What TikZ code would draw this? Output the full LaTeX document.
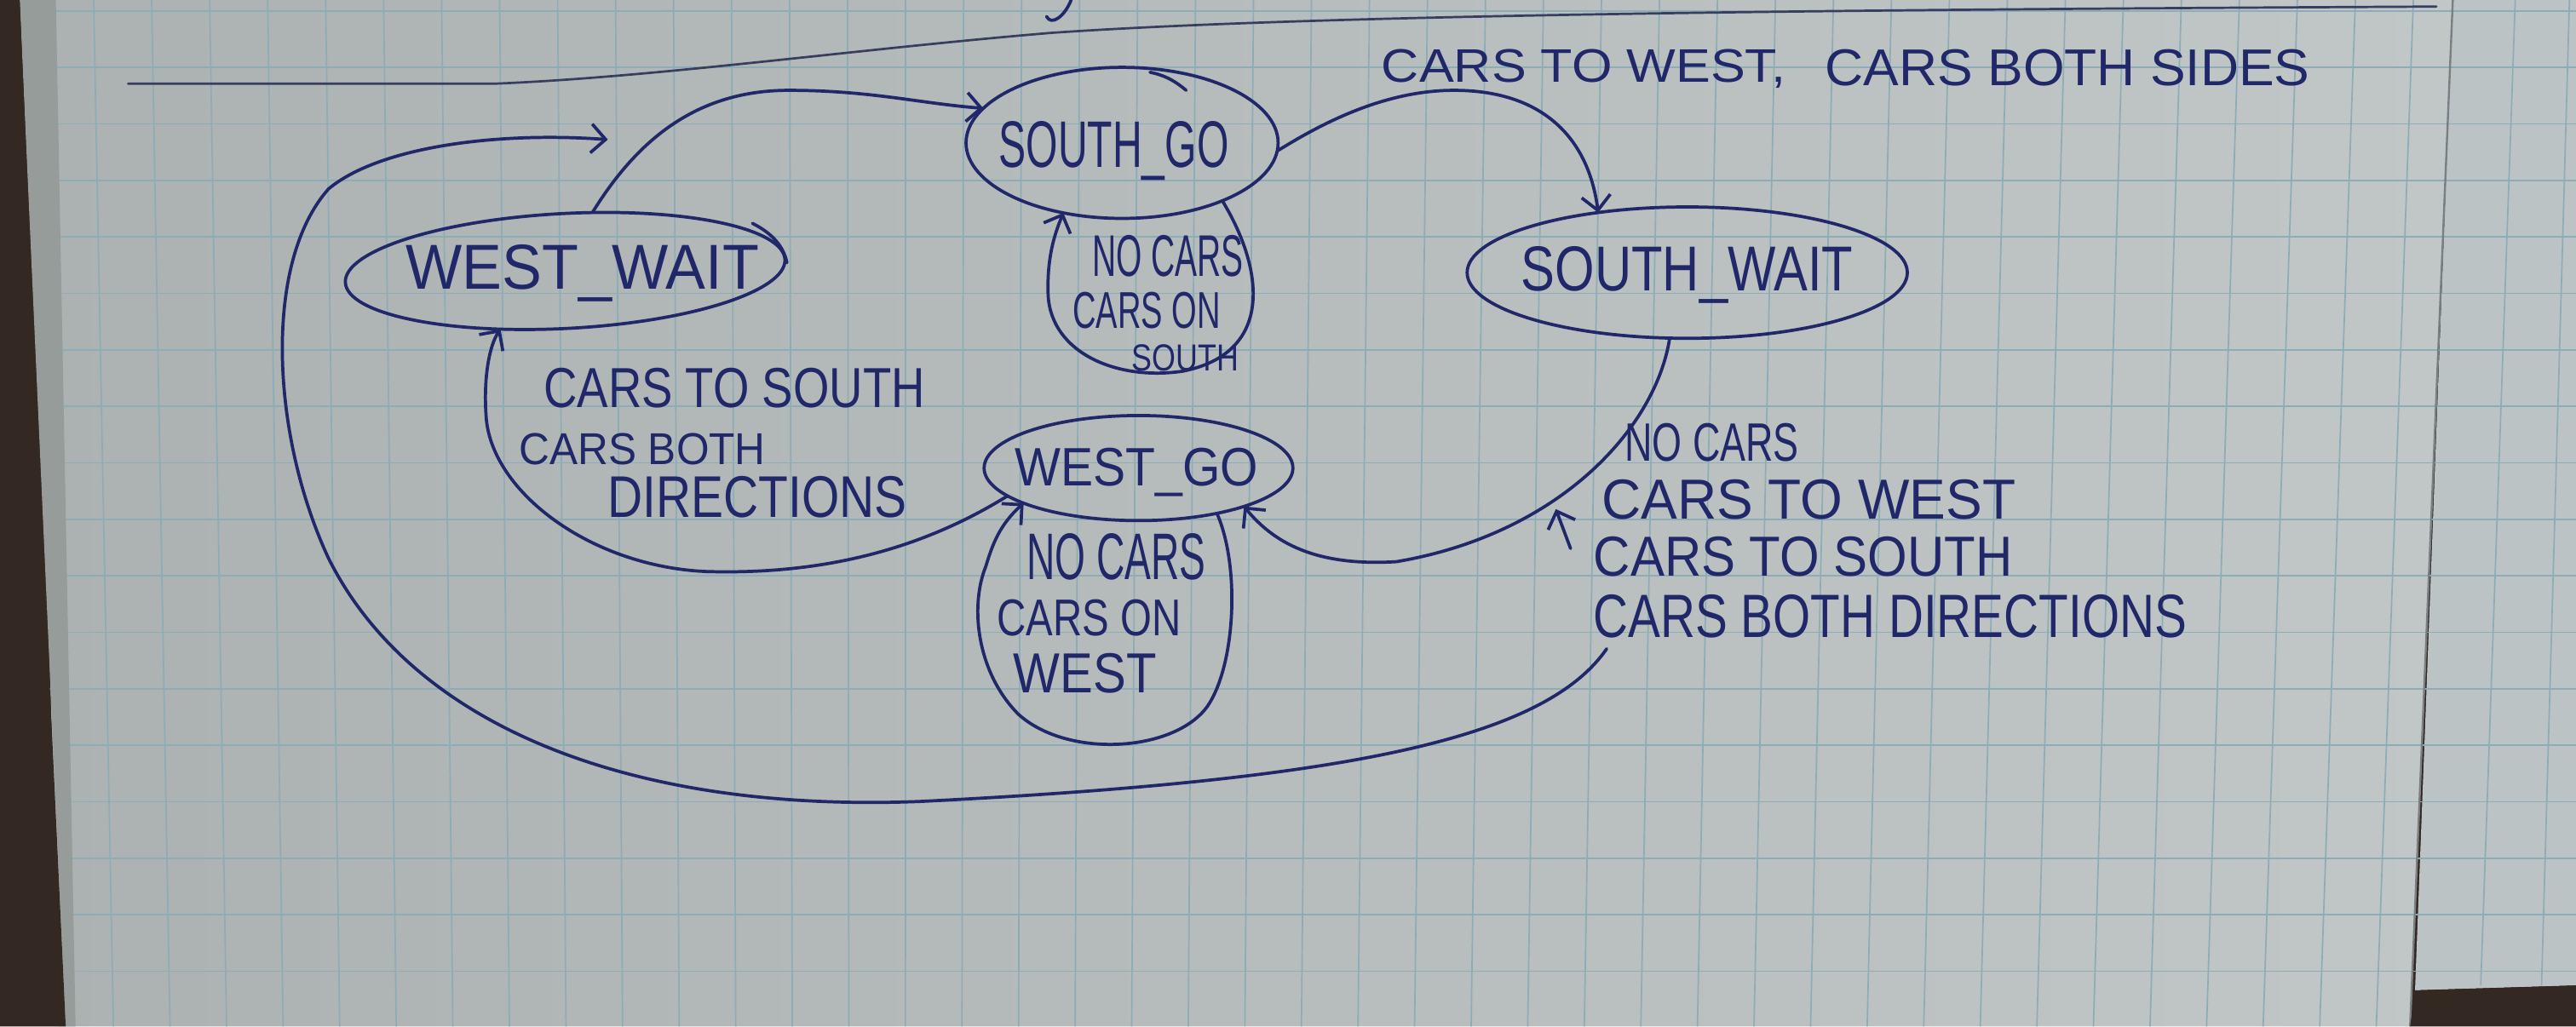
\documentclass[tikz,border=0pt]{standalone}
\usepackage{fontspec}
\setmainfont{Liberation Sans}
\usepackage{graphicx}
\usetikzlibrary{shapes.geometric,arrows.meta}
\definecolor{ink}{RGB}{32,40,105}
\definecolor{faintink}{RGB}{55,62,95}
\definecolor{paperL}{RGB}{172,178,177}
\definecolor{paperR}{RGB}{193,199,198}
\definecolor{paperRt}{RGB}{188,195,196}
\definecolor{gridc}{RGB}{140,172,182}
\definecolor{desk}{RGB}{52,40,34}
\definecolor{pageedge}{RGB}{150,156,154}
\definecolor{foldc}{RGB}{120,128,132}
\newdimen\hwu \hwu=0.02cm
\newcommand\hw[3]{\resizebox{#1\hwu}{#2\hwu}{#3}}
\begin{document}
\begin{tikzpicture}[x=0.02cm,y=-0.02cm,
  ink line/.style={draw=ink, line width=1.1pt, line cap=round, line join=round},
  state/.style={ink line, ellipse, inner sep=0pt, outer sep=0pt},
  conn/.style={ink line, -{Straight Barb[length=5pt,width=10pt]}},
  txt/.style={text=ink, inner sep=0pt, outer sep=0pt, anchor=base west},
  gridline/.style={draw=gridc, line width=0.5pt}]
\useasboundingbox (0,0) rectangle (1568,625);
% paper
\fill[desk] (0,0) rectangle (1568,625);
\shade[left color=paperL, right color=paperR] (20,0) -- (1493,0) -- (1467,625) -- (36,625) -- cycle;
\fill[paperRt] (1493,0) -- (1568,0) -- (1568,600) -- (1470,603) -- cycle;
\foreach \k in {0,...,18} {
  \pgfmathsetmacro\yy{6.6+34.4*\k}
  \draw[gridline] (30,\yy) -- (1568,\yy);
}
\foreach \i in {0,...,40} {
  \pgfmathsetmacro\xt{57+35.3*\i}
  \pgfmathsetmacro\xb{\xt+0.0245*(548-\xt)}
  \draw[gridline] (\xt,0) -- (\xb,625);
}
\draw[gridline] (1531,0) -- (1510,600);
\draw[gridline] (1564,0) -- (1547,600);
\draw[draw=foldc, line width=0.7pt] (1493,0) -- (1467,625);
\fill[pageedge] (12,0) -- (34,0) -- (46,625) -- (40,625) -- cycle;
\fill[desk] (0,0) -- (12,0) -- (22,240) -- (40,625) -- (0,625) -- cycle;
\fill[desk] (1467,625) -- (1470,603) -- (1568,600) -- (1568,625) -- cycle;
% stray pen strokes
\draw[draw=faintink, line width=0.8pt, line cap=round] (78,51) -- (300,51) .. controls (400,47) and (520,30) .. (640,20) .. controls (800,9) and (1100,6) .. (1483,4);
\draw[ink line] (652,0) .. controls (648,10) and (640,16) .. (637,10);
% states
\node[state, minimum width=3.8cm, minimum height=1.84cm] (sg) at (683,87) {};
\node[state, minimum width=5.36cm, minimum height=1.4cm, rotate=3] (ww) at (344,165) {};
\node[state, minimum width=5.36cm, minimum height=1.6cm] (sw) at (1027,166) {};
\node[state, minimum width=3.76cm, minimum height=1.28cm] (wg) at (693,285) {};
\draw[ink line] (700,44) .. controls (710,46) and (716,50) .. (722,55);
\draw[ink line] (458,136) .. controls (470,142) and (477,150) .. (479,160);
% state names
\node[txt] (sgt) at (608,102) {\hw{140}{28}{SOUTH\_GO}};
\node[txt] (wwt) at (247,176) {\hw{215}{27}{WEST\_WAIT}};
\node[txt] (swt) at (926,177) {\hw{202}{27}{SOUTH\_WAIT}};
\node[txt] (wgt) at (618,296) {\hw{148}{23}{WEST\_GO}};
% labels
\node[txt] (top1) at (841,50) {\hw{246}{20}{CARS TO WEST,}};
\node[txt] (top2) at (1111,52) {\hw{295}{22}{CARS BOTH SIDES}};
\node[txt] (a1) at (665,168) {\hw{92}{25}{NO CARS}};
\node[txt] (a2) at (653,200) {\hw{90}{22}{CARS ON}};
\node[txt] (a3) at (689,226) {\hw{65}{16}{SOUTH}};
\node[txt] (b1) at (625,353) {\hw{109}{28}{NO CARS}};
\node[txt] (b2) at (607,387) {\hw{112}{22}{CARS ON}};
\node[txt] (b3) at (617,422) {\hw{87}{24}{WEST}};
\node[txt] (c1) at (331,248) {\hw{232}{24}{CARS TO SOUTH}};
\node[txt] (c2) at (316,283) {\hw{150}{19}{CARS BOTH}};
\node[txt] (c3) at (370,315) {\hw{182}{25}{DIRECTIONS}};
\node[txt] (d1) at (989,281) {\hw{106}{23}{NO CARS}};
\node[txt] (d2) at (975,316) {\hw{252}{24}{CARS TO WEST}};
\node[txt] (d3) at (970,351) {\hw{255}{24}{CARS TO SOUTH}};
\node[txt] (d4) at (970,388) {\hw{361}{26}{CARS BOTH DIRECTIONS}};
% transitions
\draw[conn] (ww.62) .. controls (385,90) and (420,55) .. (480,55) .. controls (530,55) and (560,63) .. (sg.166);
\draw[conn] (sg.-3) .. controls (800,78) and (840,55) .. (885,55) .. controls (940,55) and (967,85) .. (sw.146);
\draw[conn] (sw.-105) .. controls (1008,260) and (950,325) .. (850,342) .. controls (800,345) and (775,330) .. (wg.-20);
\draw[conn] (wg.-168) .. controls (560,335) and (500,350) .. (430,348) .. controls (360,345) and (300,300) .. (296,255) .. controls (294,230) and (298,210) .. (ww.-141);
\draw[conn] (sg.-30) .. controls (770,165) and (775,215) .. (720,226) .. controls (680,232) and (640,215) .. (638,180) .. controls (637,155) and (643,140) .. (sg.-130);
\draw[conn] (wg.-30) .. controls (755,345) and (752,405) .. (735,430) .. controls (715,458) and (650,462) .. (620,435) .. controls (595,410) and (590,370) .. (600,345) .. controls (604,332) and (608,320) .. (wg.-163);
\coordinate (bs) at (978,395);
\coordinate (be) at (370,85);
\draw[conn] (bs) .. controls (940,450) and (820,475) .. (560,488) .. controls (380,495) and (250,440) .. (200,340) .. controls (165,265) and (160,160) .. (200,115) .. controls (230,90) and (300,80) .. (be);
\coordinate (ms) at (956,334);
\coordinate (me) at (947,310);
\draw[conn] (ms) -- (me);
\end{tikzpicture}
\end{document}
